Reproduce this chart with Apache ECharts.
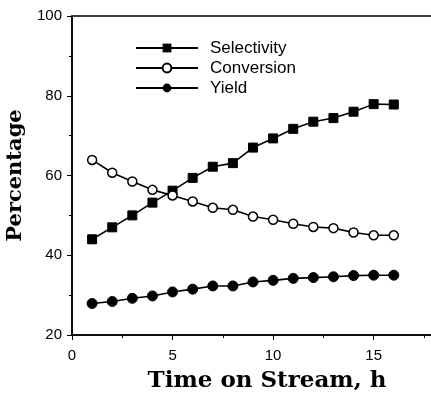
<!DOCTYPE html>
<html>
<head>
<meta charset="utf-8">
<script src="https://cdn.jsdelivr.net/npm/echarts@6/dist/echarts.min.js"></script>
<style>html,body{margin:0;padding:0;background:#fff}#c{width:431px;height:396px}</style>
</head>
<body>
<div id="c"></div>
<script>
const hours = [1,2,3,4,5,6,7,8,9,10,11,12,13,14,15,16];
const selectivity = [44,47,50,53.2,56.2,59.4,62.2,63.1,67,69.3,71.7,73.5,74.4,76,77.9,77.8];
const conversion = [63.9,60.7,58.5,56.4,55,53.5,51.9,51.4,49.7,48.9,47.9,47.1,46.8,45.7,45,45];
const yieldVals = [27.9,28.4,29.2,29.8,30.8,31.5,32.3,32.3,33.3,33.7,34.2,34.4,34.6,34.9,35,35];
const seriesNames = ['Selectivity','Conversion','Yield'];

const chart = echarts.init(document.getElementById('c'));
const pair = arr => hours.map((h,i)=>[h,arr[i]]);
const base = {
  type:'line', symbolSize:9, lineStyle:{color:'#000',width:1.6}, z:3
};
chart.setOption({
  animation:false,
  backgroundColor:'#fff',
  grid:{left:72, top:16, width:362, height:319, outerBoundsMode:'none', containLabel:false,
    show:true, borderColor:'#000', borderWidth:1.5, backgroundColor:'transparent'},
  legend:{
    orient:'vertical', left:130, top:33, itemWidth:62, itemHeight:11, itemGap:0,
    data:seriesNames,
    textStyle:{fontFamily:'Liberation Sans, Arial', fontSize:17, color:'#000', lineHeight:15, padding:[5,0,0,7]}
  },
  xAxis:{
    type:'value', min:0, max:18, interval:5,
    axisLine:{lineStyle:{color:'#000',width:1.5}},
    axisTick:{show:true, length:5, lineStyle:{color:'#000'}},
    minorTick:{show:true, splitNumber:2, length:3, lineStyle:{color:'#000'}},
    splitLine:{show:false},
    axisLabel:{fontFamily:'Liberation Sans, Arial', fontSize:15, color:'#000', margin:13,
      formatter: v => (v % 5 === 0 && v <= 15) ? String(v) : ''},
    name:'Time on Stream, h', nameLocation:'middle', nameGap:35,
    nameTextStyle:{fontFamily:'DejaVu Serif', fontWeight:'bold', fontSize:23, color:'#000', padding:[0,0,0,28]}
  },
  yAxis:{
    type:'value', min:20, max:100, interval:20,
    axisLine:{show:true, lineStyle:{color:'#000',width:1.5}},
    axisTick:{show:true, length:5, lineStyle:{color:'#000'}},
    minorTick:{show:true, splitNumber:2, length:3, lineStyle:{color:'#000'}},
    splitLine:{show:false},
    axisLabel:{fontFamily:'Liberation Sans, Arial', fontSize:15, color:'#000', margin:10},
    name:'Percentage', nameLocation:'middle', nameGap:36, nameRotate:90,
    nameTextStyle:{fontFamily:'DejaVu Serif', fontWeight:'bold', fontSize:21, color:'#000'}
  },
  series:[
    Object.assign({}, base, {name:seriesNames[0], data:pair(selectivity), symbol:'rect', symbolSize:9,
      itemStyle:{color:'#000', borderColor:'#000'}}),
    Object.assign({}, base, {name:seriesNames[1], data:pair(conversion), symbol:'circle', symbolSize:9,
      itemStyle:{color:'#fff', borderColor:'#000', borderWidth:1.5}}),
    Object.assign({}, base, {name:seriesNames[2], data:pair(yieldVals), symbol:'circle', symbolSize:10,
      itemStyle:{color:'#000', borderColor:'#000'}})
  ]
});
</script>
</body>
</html>
